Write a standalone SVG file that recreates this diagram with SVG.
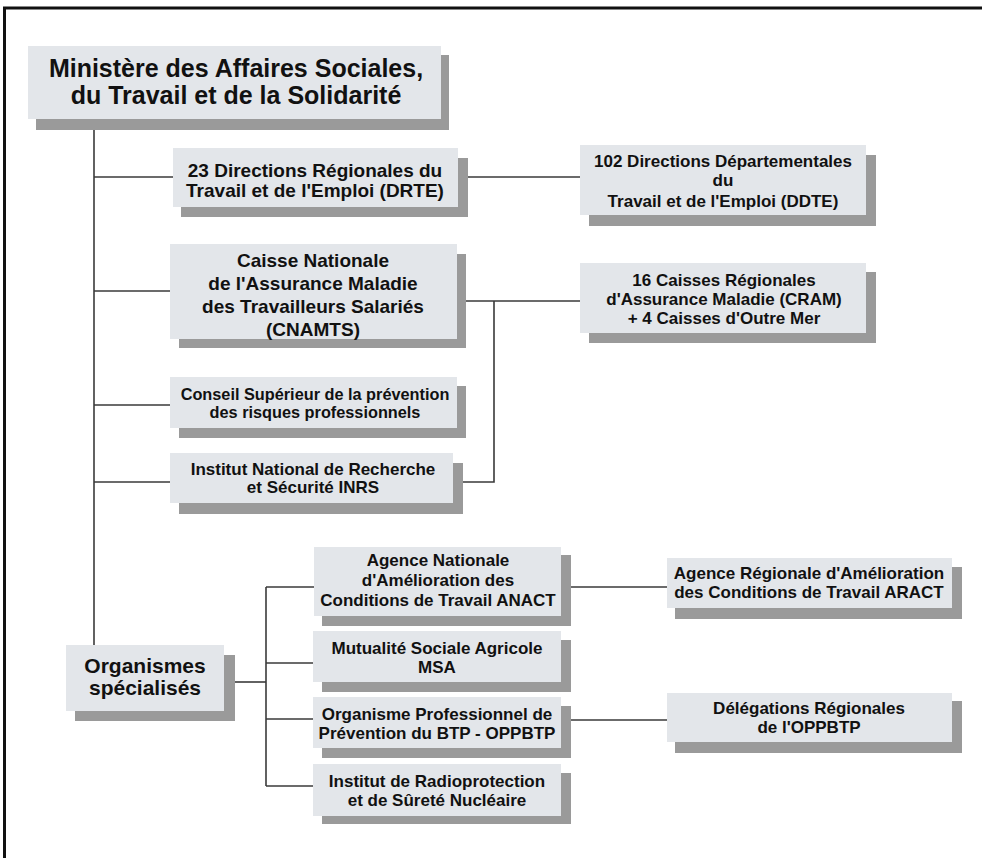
<svg xmlns="http://www.w3.org/2000/svg" width="982" height="858" viewBox="0 0 982 858">
<style>
.sh{fill:#9a9a9a}
.bx{fill:#e3e6ea}
text{font-family:"Liberation Sans",Arial,sans-serif;font-weight:bold;fill:#111;text-anchor:middle}
.f25{font-size:25px}
.f21{font-size:21px}
.f19{font-size:19px}
.f17{font-size:17px}
.f16{font-size:16.3px}
.cn{stroke:#3a3a3a;stroke-width:1.6;fill:none}
</style>
<rect width="982" height="858" fill="#fff"/>
<path d="M4.5,858 V8 H982" fill="none" stroke="#111" stroke-width="3"/>
<g id="connectors">
<path class="cn" d="M94,130 V645"/>
<path class="cn" d="M94,177 H173"/>
<path class="cn" d="M94,291 H170"/>
<path class="cn" d="M94,405 H170"/>
<path class="cn" d="M94,482 H170"/>
<path class="cn" d="M468,177 H580"/>
<path class="cn" d="M466,301 H580"/>
<path class="cn" d="M463,482 H494 V301"/>
<path class="cn" d="M235,682 H266"/>
<path class="cn" d="M266,587 V786"/>
<path class="cn" d="M266,587 H314"/>
<path class="cn" d="M266,663 H313"/>
<path class="cn" d="M266,719 H313"/>
<path class="cn" d="M266,786 H313"/>
<path class="cn" d="M571,587 H667"/>
<path class="cn" d="M571,720 H667"/>
</g>
<g id="ministere">
<rect class="sh" x="36" y="55" width="413" height="75"/>
<rect class="bx" x="28" y="46" width="413" height="73"/>
<text class="f25" x="236" y="77">Ministère des Affaires Sociales,</text>
<text class="f25" x="236" y="104">du Travail et de la Solidarité</text>
</g>
<g id="drte">
<rect class="sh" x="181" y="158" width="287" height="59"/>
<rect class="bx" x="173" y="148" width="285" height="59"/>
<text class="f19" x="315" y="177">23 Directions Régionales du</text>
<text class="f19" x="315" y="197">Travail et de l'Emploi (DRTE)</text>
</g>
<g id="ddte">
<rect class="sh" x="589" y="155" width="287" height="71"/>
<rect class="bx" x="580" y="145" width="286" height="70"/>
<text class="f17" x="723" y="167">102 Directions Départementales</text>
<text class="f17" x="723" y="186">du</text>
<text class="f17" x="723" y="207">Travail et de l'Emploi (DDTE)</text>
</g>
<g id="cnamts">
<rect class="sh" x="179" y="254" width="287" height="94"/>
<rect class="bx" x="170" y="244" width="287" height="95"/>
<text class="f19" x="313" y="267">Caisse Nationale</text>
<text class="f19" x="313" y="290">de l'Assurance Maladie</text>
<text class="f19" x="313" y="313">des Travailleurs Salariés</text>
<text class="f19" x="313" y="336">(CNAMTS)</text>
</g>
<g id="cram">
<rect class="sh" x="589" y="272" width="287" height="71"/>
<rect class="bx" x="580" y="263" width="286" height="70"/>
<text class="f17" x="724" y="286">16 Caisses Régionales</text>
<text class="f17" x="724" y="305">d'Assurance Maladie (CRAM)</text>
<text class="f17" x="724" y="324">+ 4 Caisses d'Outre Mer</text>
</g>
<g id="conseil">
<rect class="sh" x="179" y="386" width="287" height="52"/>
<rect class="bx" x="170" y="377" width="287" height="51"/>
<text class="f16" x="315" y="400">Conseil Supérieur de la prévention</text>
<text class="f16" x="315" y="418">des risques professionnels</text>
</g>
<g id="inrs">
<rect class="sh" x="179" y="463" width="284" height="51"/>
<rect class="bx" x="170" y="453" width="283" height="50"/>
<text class="f17" x="313" y="475">Institut National de Recherche</text>
<text class="f17" x="313" y="493">et Sécurité INRS</text>
</g>
<g id="organismes">
<rect class="sh" x="75" y="655" width="160" height="66"/>
<rect class="bx" x="66" y="645" width="158" height="66"/>
<text class="f21" x="145" y="673">Organismes</text>
<text class="f21" x="145" y="695">spécialisés</text>
</g>
<g id="anact">
<rect class="sh" x="322" y="555" width="249" height="71"/>
<rect class="bx" x="314" y="547" width="247" height="69"/>
<text class="f17" x="438" y="566">Agence Nationale</text>
<text class="f17" x="438" y="586">d'Amélioration des</text>
<text class="f17" x="438" y="606">Conditions de Travail ANACT</text>
</g>
<g id="msa">
<rect class="sh" x="322" y="640" width="249" height="52"/>
<rect class="bx" x="313" y="631" width="248" height="51"/>
<text class="f17" x="437" y="654">Mutualité Sociale Agricole</text>
<text class="f17" x="437" y="673">MSA</text>
</g>
<g id="oppbtp">
<rect class="sh" x="322" y="706" width="249" height="52"/>
<rect class="bx" x="313" y="697" width="248" height="51"/>
<text class="f17" x="437" y="720">Organisme Professionnel de</text>
<text class="f17" x="437" y="739">Prévention du BTP - OPPBTP</text>
</g>
<g id="irsn">
<rect class="sh" x="322" y="773" width="249" height="51"/>
<rect class="bx" x="313" y="764" width="248" height="52"/>
<text class="f17" x="437" y="787">Institut de Radioprotection</text>
<text class="f17" x="437" y="806">et de Sûreté Nucléaire</text>
</g>
<g id="aract">
<rect class="sh" x="675" y="567" width="287" height="52"/>
<rect class="bx" x="667" y="558" width="285" height="50"/>
<text class="f17" x="809" y="579">Agence Régionale d'Amélioration</text>
<text class="f17" x="809" y="598">des Conditions de Travail ARACT</text>
</g>
<g id="delegations">
<rect class="sh" x="675" y="701" width="287" height="52"/>
<rect class="bx" x="667" y="693" width="285" height="49"/>
<text class="f17" x="809" y="714">Délégations Régionales</text>
<text class="f17" x="809" y="733">de l'OPPBTP</text>
</g>
</svg>
